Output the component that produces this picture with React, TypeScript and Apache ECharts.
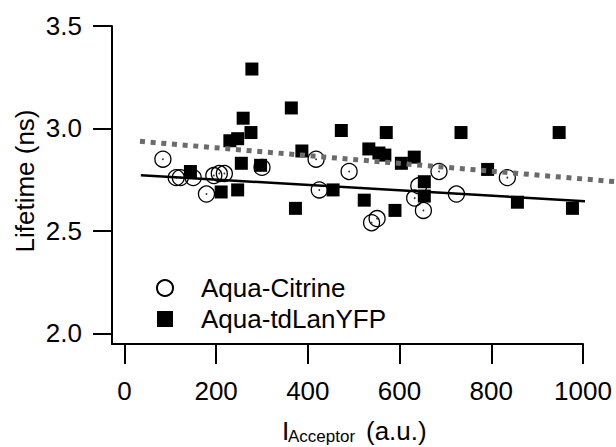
import React, { useEffect, useRef } from 'react';
import * as echarts from 'echarts';

const xTicks = [0, 200, 400, 600, 800, 1000];
const yTicks = [2.0, 2.5, 3.0, 3.5];

const citrine: [number, number][] = [
  [84, 2.85], [113, 2.76], [122, 2.76], [150, 2.76], [179, 2.68], [195, 2.77],
  [207, 2.78], [218, 2.78], [300, 2.81], [418, 2.85], [425, 2.70], [490, 2.79],
  [539, 2.54], [551, 2.56], [633, 2.66], [642, 2.72], [652, 2.60], [686, 2.79],
  [724, 2.68], [835, 2.76],
];

const lanYFP: [number, number][] = [
  [144, 2.79], [211, 2.69], [230, 2.94], [247, 2.95], [247, 2.70], [255, 2.83],
  [259, 3.05], [276, 2.98], [278, 3.29], [297, 2.82], [364, 3.10], [373, 2.61],
  [387, 2.89], [455, 2.70], [473, 2.99], [523, 2.65], [533, 2.90], [555, 2.88],
  [568, 2.87], [571, 2.98], [590, 2.60], [604, 2.83], [632, 2.86], [654, 2.74],
  [654, 2.67], [734, 2.98], [792, 2.80], [857, 2.64], [948, 2.98], [977, 2.61],
];

const citrineFit: [number, number][] = [[36, 2.772], [1006, 2.645]];
const lanYFPFit: [number, number][] = [[34, 2.937], [1071, 2.740]];

const FONT = "'Liberation Sans', Arial, sans-serif";

// main plot scale: x from -27 to 1000 over the grid width
const X_MIN = -27;
const X_MAX = 1000;
const Y_MIN = 1.948;
const Y_MAX = 3.5;
const GRID_LEFT = 112;
const GRID_RIGHT = 33;
const CHART_W = 616;

export default function App() {
  const ref = useRef<HTMLDivElement>(null);
  useEffect(() => {
    if (!ref.current) return;
    const chart = echarts.init(ref.current, undefined, { renderer: 'svg' });
    const pxPerUnit = (CHART_W - GRID_LEFT - GRID_RIGHT) / (X_MAX - X_MIN);
    const wideMax = X_MIN + (CHART_W - GRID_LEFT) / pxPerUnit;
    chart.setOption({
      animation: false,
      backgroundColor: '#fff',
      textStyle: { fontFamily: FONT, color: '#000' },
      grid: [
        { left: GRID_LEFT, right: GRID_RIGHT, top: 26, bottom: 103, containLabel: false, outerBoundsMode: 'none' },
        { left: GRID_LEFT, right: 0, top: 26, bottom: 103, containLabel: false, outerBoundsMode: 'none' },
      ],
      xAxis: [
        {
          type: 'value', min: X_MIN, max: X_MAX, gridIndex: 0,
          axisLine: { show: true, onZero: false, lineStyle: { color: '#000', width: 2 } },
          axisTick: { show: true, inside: false, length: 20, customValues: xTicks, lineStyle: { color: '#000', width: 2 } },
          axisLabel: { show: true, customValues: xTicks, fontSize: 26, color: '#000', margin: 34, fontFamily: FONT,
            formatter: (v: number) => String(v) },
          splitLine: { show: false },
        },
        {
          type: 'value', min: X_MIN, max: wideMax, gridIndex: 1, show: false,
          axisLine: { show: false, onZero: false }, axisTick: { show: false }, axisLabel: { show: false }, splitLine: { show: false },
        },
      ],
      yAxis: [
        {
          type: 'value', min: Y_MIN, max: Y_MAX, gridIndex: 0,
          axisLine: { show: true, onZero: false, lineStyle: { color: '#000', width: 2 } },
          axisTick: { show: true, inside: false, length: 19, customValues: yTicks, lineStyle: { color: '#000', width: 2 } },
          axisLabel: { show: true, customValues: yTicks, fontSize: 26, color: '#000', margin: 30, fontFamily: FONT,
            formatter: (v: number) => v.toFixed(1) },
          splitLine: { show: false },
        },
        {
          type: 'value', min: Y_MIN, max: Y_MAX, gridIndex: 1, show: false,
          axisLine: { show: false, onZero: false }, axisTick: { show: false }, axisLabel: { show: false }, splitLine: { show: false },
        },
      ],
      legend: {
        orient: 'vertical', left: 156, top: 275, itemWidth: 16, itemHeight: 16, itemGap: 5, padding: 0,
        data: ['Aqua-Citrine', 'Aqua-tdLanYFP'],
        textStyle: { fontSize: 26, color: '#000', fontFamily: FONT, padding: [0, 0, 0, 23] },
        selectedMode: false,
      },
      graphic: [
        { type: 'text', x: 24.5, y: 181, rotation: Math.PI / 2,
          style: { text: 'Lifetime (ns)', fontSize: 26, fontFamily: FONT, fill: '#000', align: 'center', verticalAlign: 'middle' } },
        { type: 'text', x: 282, y: 431,
          style: { text: 'I', fontSize: 26, fontFamily: FONT, fill: '#000', align: 'left', verticalAlign: 'middle' } },
        { type: 'text', x: 288, y: 436,
          style: { text: 'Acceptor', fontSize: 17, fontFamily: FONT, fill: '#000', align: 'left', verticalAlign: 'middle' } },
        { type: 'text', x: 366, y: 431,
          style: { text: '(a.u.)', fontSize: 26, fontFamily: FONT, fill: '#000', align: 'left', verticalAlign: 'middle' } },
      ],
      series: [
        {
          name: 'Aqua-Citrine', type: 'scatter', data: citrine, symbol: 'circle', symbolSize: 16,
          itemStyle: { color: 'rgba(255,255,255,0)', borderColor: '#000', borderWidth: 1.3, opacity: 1 },
          emphasis: { disabled: true },
        },
        {
          name: 'citrineCenter', type: 'scatter', data: citrine, symbol: 'circle', symbolSize: 1.8,
          itemStyle: { color: '#333', opacity: 1 }, silent: true, emphasis: { disabled: true },
        },
        {
          name: 'Aqua-tdLanYFP', type: 'scatter', data: lanYFP, symbol: 'rect', symbolSize: 13,
          itemStyle: { color: '#000', opacity: 1 }, emphasis: { disabled: true },
        },
        {
          name: 'citrineFit', type: 'line', data: citrineFit, symbol: 'none', clip: false,
          lineStyle: { color: '#000', width: 2.5 }, silent: true,
        },
        {
          name: 'lanYFPFit', type: 'line', data: lanYFPFit, symbol: 'none', clip: false,
          xAxisIndex: 1, yAxisIndex: 1,
          lineStyle: { color: '#6b6b6b', width: 5, type: [5, 5.7] }, silent: true,
        },
      ],
    });
    return () => chart.dispose();
  }, []);
  return <div ref={ref} style={{ position: 'fixed', left: 0, top: 0, width: 616, height: 447 }} />;
}
